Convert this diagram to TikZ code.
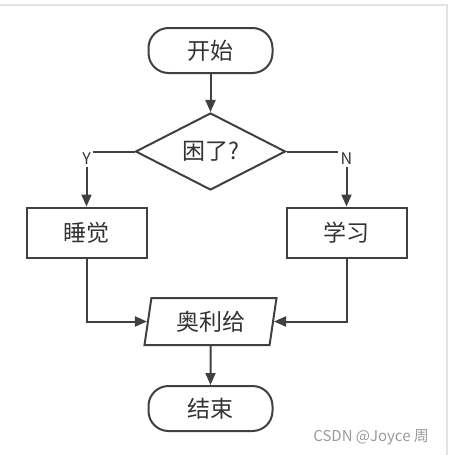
\documentclass[tikz,border=0pt]{standalone}
\usepackage{fontspec}
\setmainfont{Noto Sans CJK SC}
\usepackage{xcolor}
\usepackage{tikz}
\usetikzlibrary{shapes.geometric, arrows.meta, positioning}
\definecolor{linegray}{HTML}{404040}
\definecolor{textgray}{HTML}{333333}
\definecolor{framegray}{HTML}{E2E2E2}
\definecolor{markgray}{HTML}{9A9A9A}
\tikzstyle{startstop} = [rectangle,
rounded corners=10pt,
minimum width=62pt,
minimum height=22.5pt, text centered,
draw=linegray, line width=1pt,
text=textgray, font=\fontsize{11.5}{13}\selectfont]
\tikzstyle{decision} = [diamond,
minimum width=75pt,
minimum height=34pt, inner sep=0pt,
text centered,
draw=linegray, line width=1pt,
text=textgray, font=\fontsize{11.5}{13}\selectfont]
\tikzstyle{process} = [rectangle,
minimum width=60pt,
minimum height=25pt,
text centered,
draw=linegray, line width=1pt,
text=textgray, font=\fontsize{11.5}{13}\selectfont]
\tikzstyle{io} = [trapezium,
trapezium stretches body=true,
trapezium left angle=72,
trapezium right angle=108,
minimum width=66pt,
minimum height=23.5pt, inner sep=0pt, text centered,
draw=linegray, line width=1pt,
text=textgray, font=\fontsize{11.5}{13}\selectfont]
\tikzstyle{arrow} = [line width=1pt, draw=linegray, ->, >={Triangle[length=6pt, width=5pt]}]
\tikzstyle{choice} = [fill=white, inner sep=1.2pt, text=textgray, font=\fontsize{8}{9}\selectfont]

\begin{document}
\begin{tikzpicture}[node distance=2 cm]
            \useasboundingbox (0,0) rectangle (225pt,-227.5pt);
            \draw [framegray, line width=0.75pt] (0,-2.5pt) -- (223.5pt,-2.5pt) -- (223.5pt,-227.5pt);

            \node (start) [startstop] at (105.25pt,-25.25pt) {开始};
            \node (dec) [decision, below of=start, node distance=50.5pt] {困了?};
            \node (sleep) [process, below of=dec, node distance=40.5pt, xshift=-62pt] {睡觉};
            \node (study) [process, below of=dec, node distance=40.5pt, xshift=68pt] {学习};
            \node (out) [io, below of=dec, node distance=85pt] {奥利给};
            \node (stop) [startstop, below of=out, node distance=43.5pt] {结束};

            \draw [arrow] (start) -- (dec);
            \draw [arrow] (dec.west) -| node[choice, yshift=-3.5pt] {Y} (sleep);
            \draw [arrow] (dec.east) -| node[choice, yshift=-3.5pt] {N} (study);
            \draw [arrow] (sleep) |- (out);
            \draw [arrow] (study) |- (out);
            \draw [arrow] (out) -- (stop);

            \node (mark) [anchor=east, text=markgray, font=\fontsize{7.5}{9}\selectfont] at (218pt,-218.5pt) {CSDN @Joyce 周};
        \end{tikzpicture}
\end{document}
